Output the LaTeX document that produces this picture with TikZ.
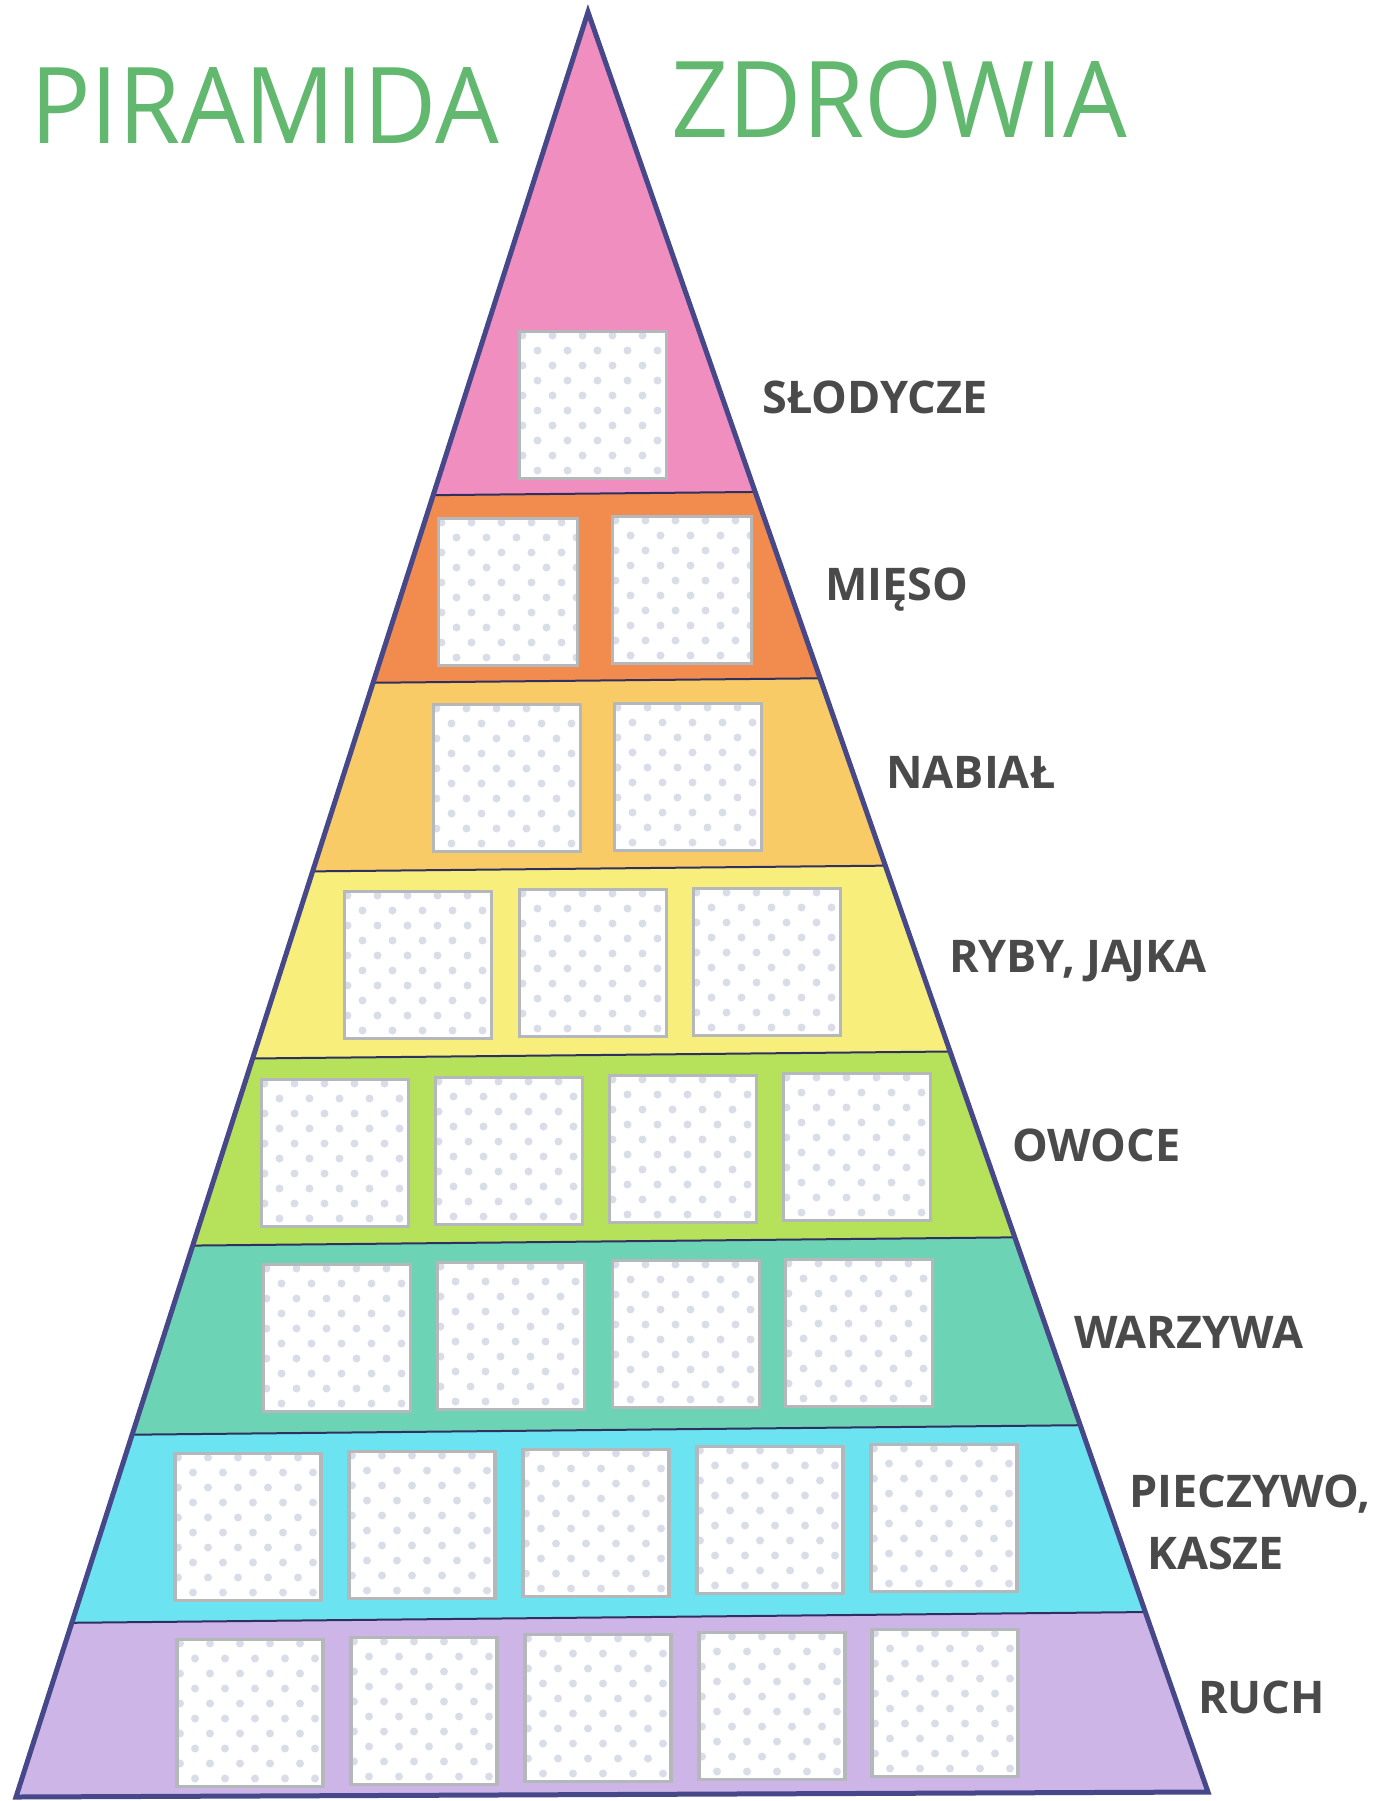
\documentclass[tikz,border=0pt]{standalone}
\usepackage{fontspec}
\setmainfont{Open Sans}
\newfontfamily\titlefont[FakeStretch=0.95]{Open Sans}
\usetikzlibrary{calc}
\definecolor{ink}{HTML}{4A4A4A}
\definecolor{leaf}{HTML}{62B86E}
\definecolor{rimc}{HTML}{47488A}
\definecolor{seamc}{HTML}{2F3060}
\definecolor{framec}{HTML}{B5B8BB}
\definecolor{dotc}{HTML}{D9DDE8}
\definecolor{sweets}{HTML}{F08EC0}
\definecolor{meat}{HTML}{F28B4E}
\definecolor{dairy}{HTML}{F9CB66}
\definecolor{fish}{HTML}{F7EE7C}
\definecolor{fruit}{HTML}{B6E15B}
\definecolor{veg}{HTML}{6CD3B5}
\definecolor{bread}{HTML}{6BE3F0}
\definecolor{move}{HTML}{CDB5E7}
\tikzset{
  x=1pt,y=-1pt,
  slot/.style={draw=framec,line width=3.5pt,fill=white,minimum width=147pt,minimum height=147pt,inner sep=0pt,
    path picture={\foreach \i in {0,...,10}{\foreach \j in {0,...,5}{
      \fill[dotc] ([shift={({\j*30+mod(\i,2)*15+3},{\i*15+4})}]path picture bounding box.north west) circle (4pt);}}}},
  tag/.style={anchor=base west,text=ink,font=\fontsize{45}{62}\selectfont\bfseries,inner sep=0pt,align=left},
  headline/.style={anchor=base west,text=leaf,font=\titlefont\fontsize{106}{120}\selectfont,inner sep=0pt},
  bandline/.style={draw=seamc,line width=2pt},
  outline/.style={draw=rimc,line width=5pt,line join=miter}
}
\begin{document}
\begin{tikzpicture}
  \useasboundingbox (0,0) rectangle (1379,1801);
  \coordinate (apex) at (588,12);
  \coordinate (bl) at (16,1797);
  \coordinate (br) at (1208,1792);

  \begin{scope}
    \clip (apex)--(bl)--(br)--cycle;
    \foreach \ya/\yb/\col in {-50/493.5/sweets,493.5/680.5/meat,680.5/868.5/dairy,868.5/1055/fish,
                              1055/1241.5/fruit,1241.5/1430/veg,1430/1617.5/bread,1617.5/1850/move}
      \fill[\col] (0,{\ya+6})--(1379,{\ya-7.8})--(1379,{\yb-7.8})--(0,{\yb+6})--cycle;
    \foreach \y in {493.5,680.5,868.5,1055,1241.5,1430,1617.5}
      \draw[bandline] (0,{\y+6})--(1379,{\y-7.8});
  \end{scope}
  \draw[outline] (apex)--(bl)--(br)--cycle;

  \node[slot] (s1) at (593,405) {};
  \foreach \n/\x/\y in {a/508/592,b/682/590}
    \node[slot,minimum width=139pt] (s2\n) at (\x,\y) {};
  \foreach \n/\x/\y in {a/507/778,b/688/777}
    \node[slot] (s3\n) at (\x,\y) {};
  \foreach \n/\x/\y in {a/418/965,b/593/963,c/767/962}
    \node[slot] (s4\n) at (\x,\y) {};
  \foreach \n/\x/\y in {a/335/1153,b/509/1151,c/683/1149,d/857/1147}
    \node[slot] (s5\n) at (\x,\y) {};
  \foreach \n/\x/\y in {a/337/1338,b/511/1336,c/686/1334,d/859/1333}
    \node[slot] (s6\n) at (\x,\y) {};
  \foreach \n/\x/\y in {a/248/1527,b/422/1525,c/596/1523,d/770/1520,e/944/1518}
    \node[slot,minimum width=146pt] (s7\n) at (\x,\y) {};
  \foreach \n/\x/\y in {a/250/1713,b/424/1711,c/598/1708,d/772/1706,e/945/1703}
    \node[slot,minimum width=146pt] (s8\n) at (\x,\y) {};

  \node[headline] (titleLeft) at (30,143) {PIRAMIDA};
  \node[headline] (titleRight) at (671,137) {ZDROWIA};

  \node[tag] (lblSweets) at (762,413) {SŁODYCZE};
  \node[tag] (lblMeat) at (825,600) {MIĘSO};
  \node[tag] (lblDairy) at (886,788) {NABIAŁ};
  \node[tag] (lblFish) at (949,972) {RYBY, JA\kern-2pt JKA};
  \node[tag] (lblFruit) at (1012,1161) {OWOCE};
  \node[tag] (lblVeg) at (1074,1348) {WARZYWA};
  \node[tag] (lblBread) at (1129,1569) {PIECZYWO,\\\hspace*{18pt}KASZE};
  \node[tag] (lblMove) at (1198,1713) {RUCH};
\end{tikzpicture}
\end{document}
